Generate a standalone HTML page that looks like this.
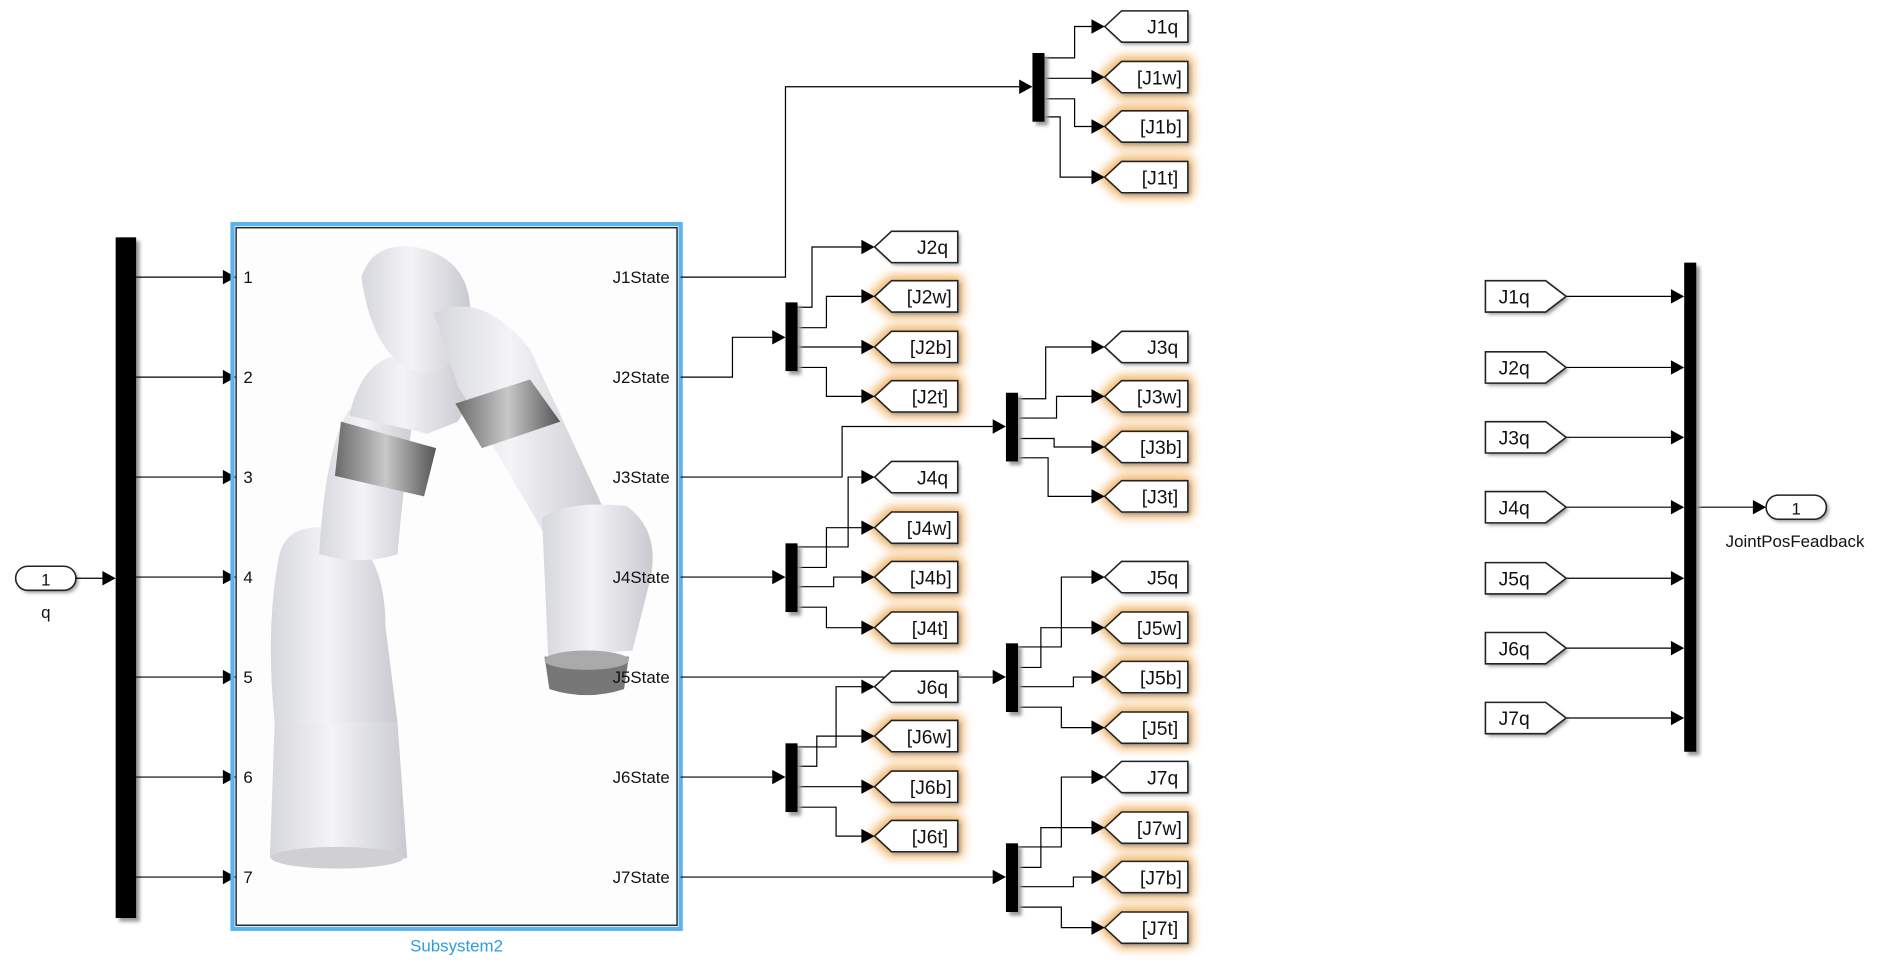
<!DOCTYPE html>
<html><head><meta charset="utf-8"><style>
html,body{margin:0;padding:0;background:#fff;}
svg{display:block;}
text{font-family:"Liberation Sans",Arial,sans-serif;fill:#111;}
</style></head><body>
<svg width="1889" height="965" viewBox="0 0 1568 801" xmlns="http://www.w3.org/2000/svg">
<defs>
<filter id="glow" x="-50%" y="-100%" width="200%" height="300%"><feGaussianBlur stdDeviation="4"/></filter>
<filter id="sh" x="-30%" y="-30%" width="160%" height="160%"><feGaussianBlur stdDeviation="1.5"/></filter>
<linearGradient id="rb" x1="0" x2="1"><stop offset="0" stop-color="#d6d7dc"/><stop offset="0.45" stop-color="#f4f4f7"/><stop offset="1" stop-color="#c9cad0"/></linearGradient>
<linearGradient id="band" x1="0" x2="1"><stop offset="0" stop-color="#6a6a6a"/><stop offset="0.5" stop-color="#c8c8c8"/><stop offset="1" stop-color="#555"/></linearGradient>
<g id="tagl"><polygon points="0,0 14,-13 69,-13 69,13 14,13" fill="#fff" stroke="#222" stroke-width="1.3"/></g>
<g id="tagshadow"><polygon points="2,2 16,-11 71,-11 71,15 16,15" fill="#999" filter="url(#sh)"/></g>
<g id="glw"><polygon points="0,0 14,-13 69,-13 69,13 14,13" fill="#f0a850" stroke="#f0a850" stroke-width="9" stroke-linejoin="round" opacity="0.85" filter="url(#glow)"/></g>
<polygon id="ah" points="-11,-6 0,0 -11,6" fill="#000"/>
</defs>

<!-- Inport q -->
<rect x="15" y="472" width="50" height="20" rx="10" fill="#999" filter="url(#sh)"/>
<rect x="13" y="470" width="50" height="20" rx="10" fill="#fff" stroke="#222" stroke-width="1.3"/>
<text x="38" y="486" font-size="14" text-anchor="middle">1</text>
<text x="38" y="513" font-size="14" text-anchor="middle">q</text>
<line x1="63" y1="480" x2="95" y2="480" stroke="#000"/>
<use href="#ah" x="96" y="480"/>

<!-- left bus -->
<rect x="99" y="200" width="17" height="565" fill="#999" filter="url(#sh)"/>
<rect x="96" y="197" width="17" height="565" fill="#000"/>
<g stroke="#000">
<line x1="113" y1="230" x2="186" y2="230"/><line x1="113" y1="313" x2="186" y2="313"/>
<line x1="113" y1="396" x2="186" y2="396"/><line x1="113" y1="479" x2="186" y2="479"/>
<line x1="113" y1="562" x2="186" y2="562"/><line x1="113" y1="645" x2="186" y2="645"/>
<line x1="113" y1="728" x2="186" y2="728"/>
</g>
<use href="#ah" x="196" y="230"/><use href="#ah" x="196" y="313"/><use href="#ah" x="196" y="396"/>
<use href="#ah" x="196" y="479"/><use href="#ah" x="196" y="562"/><use href="#ah" x="196" y="645"/>
<use href="#ah" x="196" y="728"/>

<!-- subsystem -->
<rect x="193" y="186" width="372" height="585" fill="none" stroke="#5ab4f0" stroke-width="3.5"/>
<rect x="196" y="189" width="366" height="579" fill="#fdfdfe" stroke="#222" stroke-width="1.2"/>
<!-- robot -->
<g>
<path d="M228,600 L330,600 L338,712 Q280,730 224,712 Z" fill="url(#rb)"/>
<ellipse cx="280" cy="712" rx="55" ry="9" fill="#d0d0d4"/>
<path d="M232,460 Q240,430 285,440 Q320,460 320,520 L330,600 L228,600 Q220,520 232,460 Z" fill="url(#rb)"/>
<path d="M265,460 Q270,370 290,340 L345,330 Q335,400 330,460 Q300,470 265,460 Z" fill="url(#rb)"/>
<path d="M283,350 L362,372 L352,412 L278,395 Z" fill="url(#band)"/>
<path d="M290,345 Q300,300 330,295 L370,280 Q400,320 380,350 L355,360 Z" fill="url(#rb)"/>
<path d="M300,230 Q310,200 345,205 Q395,215 390,270 Q380,310 350,310 Q310,300 300,230 Z" fill="url(#rb)"/>
<path d="M360,260 Q400,240 440,290 L500,420 L450,440 L380,320 Z" fill="url(#rb)"/>
<path d="M378,335 L440,315 L465,350 L400,372 Z" fill="url(#band)"/>
<path d="M450,430 Q470,415 520,420 Q548,440 540,480 L525,540 L455,545 Z" fill="url(#rb)"/>
<path d="M452,545 L522,545 L518,572 Q487,582 456,572 Z" fill="#777"/>
<ellipse cx="487" cy="548" rx="35" ry="8" fill="#aaa"/>
</g>
<g font-size="14">
<text x="202" y="235">1</text><text x="202" y="318">2</text><text x="202" y="401">3</text>
<text x="202" y="484">4</text><text x="202" y="567">5</text><text x="202" y="650">6</text><text x="202" y="733">7</text>
<g text-anchor="end">
<text x="556" y="235">J1State</text><text x="556" y="318">J2State</text><text x="556" y="401">J3State</text>
<text x="556" y="484">J4State</text><text x="556" y="567">J5State</text><text x="556" y="650">J6State</text>
<text x="556" y="733">J7State</text></g>
</g>
<text x="379" y="790" font-size="14" text-anchor="middle" style="fill:#2a9be8">Subsystem2</text>

<!-- demux connection lines -->
<g stroke="#000" fill="none" stroke-width="1">
<polyline points="565,230 652,230 652,72 846,72"/>
<polyline points="867,48 892,48 892,22 906,22"/>
<polyline points="867,65 906,65"/>
<polyline points="867,82 892,82 892,105 906,105"/>
<polyline points="867,97 880,97 880,147 906,147"/>
<polyline points="565,313 608,313 608,280 641,280"/>
<polyline points="661,255 674,255 674,205 715,205"/>
<polyline points="661,272 686,272 686,246 715,246"/>
<polyline points="661,288 715,288"/>
<polyline points="661,305 686,305 686,329 715,329"/>
<polyline points="565,396 699,396 699,354 824,354"/>
<polyline points="844,331 868,331 868,288 906,288"/>
<polyline points="844,347 877,347 877,329 906,329"/>
<polyline points="844,364 875,364 875,371 906,371"/>
<polyline points="844,380 870,380 870,412 906,412"/>
<polyline points="565,479 641,479"/>
<polyline points="661,454 704,454 704,396 715,396"/>
<polyline points="661,471 686,471 686,438 715,438"/>
<polyline points="661,487 692,487 692,479 715,479"/>
<polyline points="661,504 686,504 686,521 715,521"/>
<polyline points="565,562 824,562"/>
<polyline points="844,537 881,537 881,479 906,479"/>
<polyline points="844,554 864,554 864,521 906,521"/>
<polyline points="844,570 891,570 891,562 906,562"/>
<polyline points="844,587 881,587 881,604 906,604"/>
<polyline points="565,645 641,645"/>
<polyline points="661,620 694,620 694,570 715,570"/>
<polyline points="661,636 678,636 678,611 715,611"/>
<polyline points="661,653 715,653"/>
<polyline points="661,670 694,670 694,694 715,694"/>
<polyline points="565,728 824,728"/>
<polyline points="844,703 881,703 881,645 906,645"/>
<polyline points="844,720 864,720 864,687 906,687"/>
<polyline points="844,736 891,736 891,728 906,728"/>
<polyline points="844,753 881,753 881,770 906,770"/>
</g>
<use href="#ah" x="857" y="72"/><use href="#ah" x="652" y="280"/><use href="#ah" x="835" y="354"/>
<use href="#ah" x="652" y="479"/><use href="#ah" x="835" y="562"/><use href="#ah" x="652" y="645"/>
<use href="#ah" x="835" y="728"/>
<g fill="#999" filter="url(#sh)">
<rect x="860" y="47" width="10" height="57"/><rect x="655" y="254" width="10" height="57"/>
<rect x="838" y="329" width="10" height="57"/><rect x="655" y="454" width="10" height="57"/>
<rect x="838" y="537" width="10" height="57"/><rect x="655" y="620" width="10" height="57"/>
<rect x="838" y="703" width="10" height="57"/>
</g>
<g fill="#000">
<rect x="857" y="44" width="10" height="57"/><rect x="652" y="251" width="10" height="57"/>
<rect x="835" y="326" width="10" height="57"/><rect x="652" y="451" width="10" height="57"/>
<rect x="835" y="534" width="10" height="57"/><rect x="652" y="617" width="10" height="57"/>
<rect x="835" y="700" width="10" height="57"/>
</g>

<g>
<use href="#glw" x="917" y="64"/><use href="#glw" x="917" y="105"/><use href="#glw" x="917" y="147"/>
<use href="#glw" x="726" y="246"/><use href="#glw" x="726" y="288"/><use href="#glw" x="726" y="329"/>
<use href="#glw" x="917" y="329"/><use href="#glw" x="917" y="371"/><use href="#glw" x="917" y="412"/>
<use href="#glw" x="726" y="438"/><use href="#glw" x="726" y="479"/><use href="#glw" x="726" y="521"/>
<use href="#glw" x="917" y="521"/><use href="#glw" x="917" y="562"/><use href="#glw" x="917" y="604"/>
<use href="#glw" x="726" y="611"/><use href="#glw" x="726" y="653"/><use href="#glw" x="726" y="694"/>
<use href="#glw" x="917" y="687"/><use href="#glw" x="917" y="728"/><use href="#glw" x="917" y="770"/>
</g>
<g>
<use href="#tagshadow" x="917" y="22"/><use href="#tagshadow" x="917" y="64"/><use href="#tagshadow" x="917" y="105"/><use href="#tagshadow" x="917" y="147"/>
<use href="#tagshadow" x="726" y="205"/><use href="#tagshadow" x="726" y="246"/><use href="#tagshadow" x="726" y="288"/><use href="#tagshadow" x="726" y="329"/>
<use href="#tagshadow" x="917" y="288"/><use href="#tagshadow" x="917" y="329"/><use href="#tagshadow" x="917" y="371"/><use href="#tagshadow" x="917" y="412"/>
<use href="#tagshadow" x="726" y="396"/><use href="#tagshadow" x="726" y="438"/><use href="#tagshadow" x="726" y="479"/><use href="#tagshadow" x="726" y="521"/>
<use href="#tagshadow" x="917" y="479"/><use href="#tagshadow" x="917" y="521"/><use href="#tagshadow" x="917" y="562"/><use href="#tagshadow" x="917" y="604"/>
<use href="#tagshadow" x="726" y="570"/><use href="#tagshadow" x="726" y="611"/><use href="#tagshadow" x="726" y="653"/><use href="#tagshadow" x="726" y="694"/>
<use href="#tagshadow" x="917" y="645"/><use href="#tagshadow" x="917" y="687"/><use href="#tagshadow" x="917" y="728"/><use href="#tagshadow" x="917" y="770"/>
</g>
<g>
<use href="#tagl" x="917" y="22"/><use href="#tagl" x="917" y="64"/><use href="#tagl" x="917" y="105"/><use href="#tagl" x="917" y="147"/>
<use href="#tagl" x="726" y="205"/><use href="#tagl" x="726" y="246"/><use href="#tagl" x="726" y="288"/><use href="#tagl" x="726" y="329"/>
<use href="#tagl" x="917" y="288"/><use href="#tagl" x="917" y="329"/><use href="#tagl" x="917" y="371"/><use href="#tagl" x="917" y="412"/>
<use href="#tagl" x="726" y="396"/><use href="#tagl" x="726" y="438"/><use href="#tagl" x="726" y="479"/><use href="#tagl" x="726" y="521"/>
<use href="#tagl" x="917" y="479"/><use href="#tagl" x="917" y="521"/><use href="#tagl" x="917" y="562"/><use href="#tagl" x="917" y="604"/>
<use href="#tagl" x="726" y="570"/><use href="#tagl" x="726" y="611"/><use href="#tagl" x="726" y="653"/><use href="#tagl" x="726" y="694"/>
<use href="#tagl" x="917" y="645"/><use href="#tagl" x="917" y="687"/><use href="#tagl" x="917" y="728"/><use href="#tagl" x="917" y="770"/>
</g>
<g>
<use href="#ah" x="917" y="22"/><use href="#ah" x="917" y="64"/><use href="#ah" x="917" y="105"/><use href="#ah" x="917" y="147"/>
<use href="#ah" x="726" y="205"/><use href="#ah" x="726" y="246"/><use href="#ah" x="726" y="288"/><use href="#ah" x="726" y="329"/>
<use href="#ah" x="917" y="288"/><use href="#ah" x="917" y="329"/><use href="#ah" x="917" y="371"/><use href="#ah" x="917" y="412"/>
<use href="#ah" x="726" y="396"/><use href="#ah" x="726" y="438"/><use href="#ah" x="726" y="479"/><use href="#ah" x="726" y="521"/>
<use href="#ah" x="917" y="479"/><use href="#ah" x="917" y="521"/><use href="#ah" x="917" y="562"/><use href="#ah" x="917" y="604"/>
<use href="#ah" x="726" y="570"/><use href="#ah" x="726" y="611"/><use href="#ah" x="726" y="653"/><use href="#ah" x="726" y="694"/>
<use href="#ah" x="917" y="645"/><use href="#ah" x="917" y="687"/><use href="#ah" x="917" y="728"/><use href="#ah" x="917" y="770"/>
</g>
<g font-size="16" text-anchor="end">
<text x="978" y="28">J1q</text><text x="981" y="70">[J1w]</text><text x="981" y="111">[J1b]</text><text x="978" y="153">[J1t]</text>
<text x="787" y="211">J2q</text><text x="790" y="252">[J2w]</text><text x="790" y="294">[J2b]</text><text x="787" y="335">[J2t]</text>
<text x="978" y="294">J3q</text><text x="981" y="335">[J3w]</text><text x="981" y="377">[J3b]</text><text x="978" y="418">[J3t]</text>
<text x="787" y="402">J4q</text><text x="790" y="444">[J4w]</text><text x="790" y="485">[J4b]</text><text x="787" y="527">[J4t]</text>
<text x="978" y="485">J5q</text><text x="981" y="527">[J5w]</text><text x="981" y="568">[J5b]</text><text x="978" y="610">[J5t]</text>
<text x="787" y="576">J6q</text><text x="790" y="617">[J6w]</text><text x="790" y="659">[J6b]</text><text x="787" y="700">[J6t]</text>
<text x="978" y="651">J7q</text><text x="981" y="693">[J7w]</text><text x="981" y="734">[J7b]</text><text x="978" y="776">[J7t]</text>
</g>

<g fill="#999" filter="url(#sh)">
<polygon points="1235,235 1285,235 1302,248 1285,261 1235,261"/>
<polygon points="1235,294 1285,294 1302,307 1285,320 1235,320"/>
<polygon points="1235,352 1285,352 1302,365 1285,378 1235,378"/>
<polygon points="1235,410 1285,410 1302,423 1285,436 1235,436"/>
<polygon points="1235,469 1285,469 1302,482 1285,495 1235,495"/>
<polygon points="1235,527 1285,527 1302,540 1285,553 1235,553"/>
<polygon points="1235,585 1285,585 1302,598 1285,611 1235,611"/>
</g>
<g stroke="#000">
<line x1="1300" y1="246" x2="1388" y2="246"/><line x1="1300" y1="305" x2="1388" y2="305"/>
<line x1="1300" y1="363" x2="1388" y2="363"/><line x1="1300" y1="421" x2="1388" y2="421"/>
<line x1="1300" y1="480" x2="1388" y2="480"/><line x1="1300" y1="538" x2="1388" y2="538"/>
<line x1="1300" y1="596" x2="1388" y2="596"/>
<line x1="1408" y1="421" x2="1456" y2="421"/>
</g>
<g fill="#fff" stroke="#222" stroke-width="1.3">
<polygon points="1233,233 1283,233 1300,246 1283,259 1233,259"/>
<polygon points="1233,292 1283,292 1300,305 1283,318 1233,318"/>
<polygon points="1233,350 1283,350 1300,363 1283,376 1233,376"/>
<polygon points="1233,408 1283,408 1300,421 1283,434 1233,434"/>
<polygon points="1233,467 1283,467 1300,480 1283,493 1233,493"/>
<polygon points="1233,525 1283,525 1300,538 1283,551 1233,551"/>
<polygon points="1233,583 1283,583 1300,596 1283,609 1233,609"/>
</g>
<g font-size="16">
<text x="1244" y="252">J1q</text><text x="1244" y="311">J2q</text><text x="1244" y="369">J3q</text>
<text x="1244" y="427">J4q</text><text x="1244" y="486">J5q</text><text x="1244" y="544">J6q</text><text x="1244" y="602">J7q</text>
</g>
<use href="#ah" x="1398" y="246"/><use href="#ah" x="1398" y="305"/><use href="#ah" x="1398" y="363"/>
<use href="#ah" x="1398" y="421"/><use href="#ah" x="1398" y="480"/><use href="#ah" x="1398" y="538"/>
<use href="#ah" x="1398" y="596"/>
<rect x="1401" y="221" width="10" height="406" fill="#999" filter="url(#sh)"/>
<rect x="1398" y="218" width="10" height="406" fill="#000"/>
<use href="#ah" x="1466" y="421"/>
<rect x="1468" y="413" width="50" height="20" rx="10" fill="#999" filter="url(#sh)"/>
<rect x="1466" y="411" width="50" height="20" rx="10" fill="#fff" stroke="#222" stroke-width="1.3"/>
<text x="1491" y="427" font-size="14" text-anchor="middle">1</text>
<text x="1490" y="454" font-size="14" text-anchor="middle">JointPosFeadback</text>
</svg>
</body></html>
